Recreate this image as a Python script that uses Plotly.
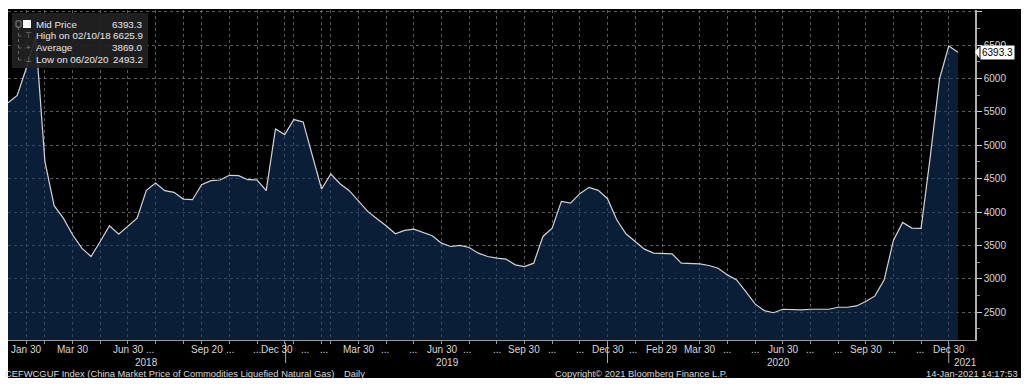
import plotly.graph_objects as go

# ---- data (10-day observations, index based axis like the Bloomberg terminal) ----
mid_price = [5635, 5745, 6160, 6625.9, 4760, 4095, 3910, 3660, 3460, 3335,
             3560, 3795, 3670, 3785, 3910, 4325, 4435, 4320, 4295, 4195,
             4185, 4410, 4470, 4480, 4550, 4545, 4485, 4480, 4320, 5245,
             5160, 5385, 5350, 4845, 4345, 4570, 4425, 4320, 4160, 4010,
             3900, 3795, 3675, 3725, 3745, 3700, 3645, 3535, 3485, 3500,
             3470, 3385, 3335, 3310, 3295, 3210, 3185, 3235, 3635, 3760,
             4160, 4135, 4275, 4370, 4325, 4200, 3885, 3675, 3560, 3445,
             3385, 3375, 3375, 3235, 3225, 3225, 3200, 3160, 3060, 2985,
             2810, 2625, 2525, 2493.2, 2545, 2535, 2535, 2545, 2545, 2545,
             2575, 2575, 2595, 2660, 2745, 2985, 3575, 3845, 3760, 3755,
             4835, 5995, 6485, 6393.3]

x_label_pos = [2, 7, 13, 15.4, 21.6, 24.1, 27, 29.2, 32.2, 34.3,
               38.1, 40.9, 43.9, 47.1, 49.8, 53, 56, 59, 62, 65.1,
               67.8, 70.9, 75, 78, 81, 84, 87, 90, 93, 95.8,
               98.9, 102]
x_label_text = ["Jan 30", "Mar 30", "Jun 30", "...", "Sep 20", "...", "...", "Dec 30", "...", "...",
                "Mar 30", "...", "...", "Jun 30", "...", "...", "Sep 30", "...", "...", "Dec 30",
                "...", "Feb 29", "Mar 30", "...", "...", "Jun 30", "...", "...", "Sep 30", "...",
                "...", "Dec 30"]
grid_pos = [2, 4, 7, 10, 13, 16, 19, 21, 24, 27, 30, 31, 34, 35, 38, 41, 44, 47, 50,
            53, 56, 59, 62, 65, 68, 71, 75, 78, 81, 84, 87, 90, 93, 96, 99, 102]
year_pos = [15.07, 47.6, 83.5, 103.8]
year_text = ["2018", "2019", "2020", "2021"]
year_sep = [30.1, 65.0, 102.0]

y_ticks = [2500, 3000, 3500, 4000, 4500, 5000, 5500, 6000, 6500, 7000]
y_ticktext = ["2500", "3000", "3500", "4000", "4500", "5000", "5500", "6000", "6500", ""]

legend_names = ["Mid Price", "High on 02/10/18", "Average", "Low on 06/20/20"]
legend_values = ["6393.3", "6625.9", "3869.0", "2493.2"]
last_value = mid_price[-1]

# ---- geometry helpers (pixel -> paper) ----
L, R, T, B = 8, 975, 10, 340
W, H = 1024, 385
def px(xp):
    return (xp - L) / (R - L)
def py(yp):
    return (B - yp) / (B - T)

FONT = "Liberation Sans, Arial, sans-serif"
TXT = "#d8d8d8"

fig = go.Figure()
fig.add_trace(go.Scatter(
    x=list(range(len(mid_price))), y=mid_price, mode="lines",
    line=dict(color="#d4d4d4", width=1.2),
    fill="tozeroy", fillcolor="rgba(18,54,100,0.56)",
    hoverinfo="skip", showlegend=False))

shapes = []
# black chart panel
shapes.append(dict(type="rect", xref="paper", yref="paper", x0=px(8), x1=px(1021),
                   y0=py(378), y1=py(9), fillcolor="black", line=dict(width=0), layer="below"))
# legend box
shapes.append(dict(type="rect", xref="paper", yref="paper", x0=px(12), x1=px(148),
                   y0=py(68), y1=py(13), fillcolor="rgba(34,34,34,0.92)", line=dict(width=0)))
# legend icons
shapes.append(dict(type="rect", xref="paper", yref="paper", x0=px(23), x1=px(31),
                   y0=py(28), y1=py(20), fillcolor="white", line=dict(width=0)))
shapes.append(dict(type="rect", xref="paper", yref="paper", x0=px(16), x1=px(21),
                   y0=py(27), y1=py(21), fillcolor="rgba(0,0,0,0)", line=dict(color="#888", width=1)))
shapes.append(dict(type="line", xref="paper", yref="paper", x0=px(18.5), x1=px(18.5),
                   y0=py(60), y1=py(27), line=dict(color="#666", width=1, dash="dot")))
for yy in [36, 48, 60]:
    shapes.append(dict(type="line", xref="paper", yref="paper", x0=px(18.5), x1=px(25),
                       y0=py(yy), y1=py(yy), line=dict(color="#666", width=1, dash="dot")))
# year separators
for xs in year_sep:
    shapes.append(dict(type="line", xref="x", yref="paper", x0=xs, x1=xs,
                       y0=py(343), y1=py(363), line=dict(color="#aaaaaa", width=1)))
# last value arrow
shapes.append(dict(type="path", xref="paper", yref="y",
                   path=f"M {px(975)} {last_value} L {px(979.5)} {last_value + 90} L {px(979.5)} {last_value - 90} Z",
                   fillcolor="white", line=dict(width=0)))

annotations = []
for pos, txt in zip(x_label_pos, x_label_text):
    annotations.append(dict(x=pos, y=py(349), xref="x", yref="paper", text=txt, showarrow=False,
                            xanchor="center", yanchor="middle", font=dict(family=FONT, size=10, color=TXT)))
for pos, txt in zip(year_pos, year_text):
    annotations.append(dict(x=pos, y=py(362), xref="x", yref="paper", text=txt, showarrow=False,
                            xanchor="center", yanchor="middle", font=dict(family=FONT, size=10, color=TXT)))
# footer
annotations.append(dict(x=px(3), y=py(373), xref="paper", yref="paper", showarrow=False,
                        text="CEFWCGUF Index (China Market Price of Commodities Liquefied Natural Gas)",
                        xanchor="left", yanchor="middle", font=dict(family=FONT, size=9.4, color=TXT)))
annotations.append(dict(x=px(342), y=py(373), xref="paper", yref="paper", showarrow=False,
                        text="Daily", xanchor="left", yanchor="middle", font=dict(family=FONT, size=9.4, color=TXT)))
annotations.append(dict(x=px(553), y=py(373), xref="paper", yref="paper", showarrow=False,
                        text="Copyright© 2021 Bloomberg Finance L.P.", xanchor="left", yanchor="middle",
                        font=dict(family=FONT, size=9.4, color=TXT)))
annotations.append(dict(x=px(1020), y=py(373), xref="paper", yref="paper", showarrow=False,
                        text="14-Jan-2021 14:17:53", xanchor="right", yanchor="middle",
                        font=dict(family=FONT, size=9.4, color=TXT)))
# legend text
for i, (n, v) in enumerate(zip(legend_names, legend_values)):
    yy = py(24 + i * 11.7)
    annotations.append(dict(x=px(34), y=yy, xref="paper", yref="paper", text=n, showarrow=False,
                            xanchor="left", yanchor="middle", font=dict(family=FONT, size=9.8, color="#e8e8e8")))
    annotations.append(dict(x=px(145), y=yy, xref="paper", yref="paper", text=v, showarrow=False,
                            xanchor="right", yanchor="middle", font=dict(family=FONT, size=9.8, color="#e8e8e8")))
for i, g in [(1, "⊤"), (2, "+"), (3, "⊥")]:
    annotations.append(dict(x=px(28), y=py(24 + i * 11.7), xref="paper", yref="paper", text=g, showarrow=False,
                            xanchor="center", yanchor="middle", font=dict(family=FONT, size=8, color="#888")))
# last value label (covers the 6500 tick label, as in the terminal)
annotations.append(dict(x=px(979.5), y=last_value, xref="paper", yref="y", text="6393.3", showarrow=False,
                        xanchor="left", yanchor="middle", bgcolor="white", borderpad=1,
                        font=dict(family=FONT, size=10, color="black")))

fig.update_layout(
    width=W, height=H,
    margin=dict(l=L, r=W - R, t=T, b=H - B),
    paper_bgcolor="white", plot_bgcolor="black",
    showlegend=False,
    shapes=shapes, annotations=annotations,
    xaxis=dict(range=[0, (R - L) / 9.223], tickvals=grid_pos, showticklabels=False,
               showgrid=True, gridcolor="rgba(120,120,120,0.75)", griddash="dot", gridwidth=1,
               ticks="outside", ticklen=3, tickcolor="#999", showline=True, linecolor="#9a9a9a",
               linewidth=1, zeroline=False, fixedrange=True),
    yaxis=dict(range=[2085, 7025], side="right", tickvals=y_ticks, ticktext=y_ticktext,
               showgrid=True, gridcolor="rgba(120,120,120,0.75)", griddash="dot", gridwidth=1,
               ticks="outside", ticklen=5, tickcolor="#cccccc", tickwidth=1,
               minor=dict(tickvals=[2250, 2750, 3250, 3750, 4250, 4750, 5250, 5750, 6250, 6750],
                          ticks="outside", ticklen=3, tickcolor="#999", showgrid=False),
               showline=True, linecolor="#b0b0b0", linewidth=1.5, zeroline=False,
               tickfont=dict(family=FONT, size=10, color=TXT), fixedrange=True),
)

fig.write_html("out.html", config={"displayModeBar": False},
               post_script="document.body.style.margin='0';document.body.style.overflow='hidden';")
